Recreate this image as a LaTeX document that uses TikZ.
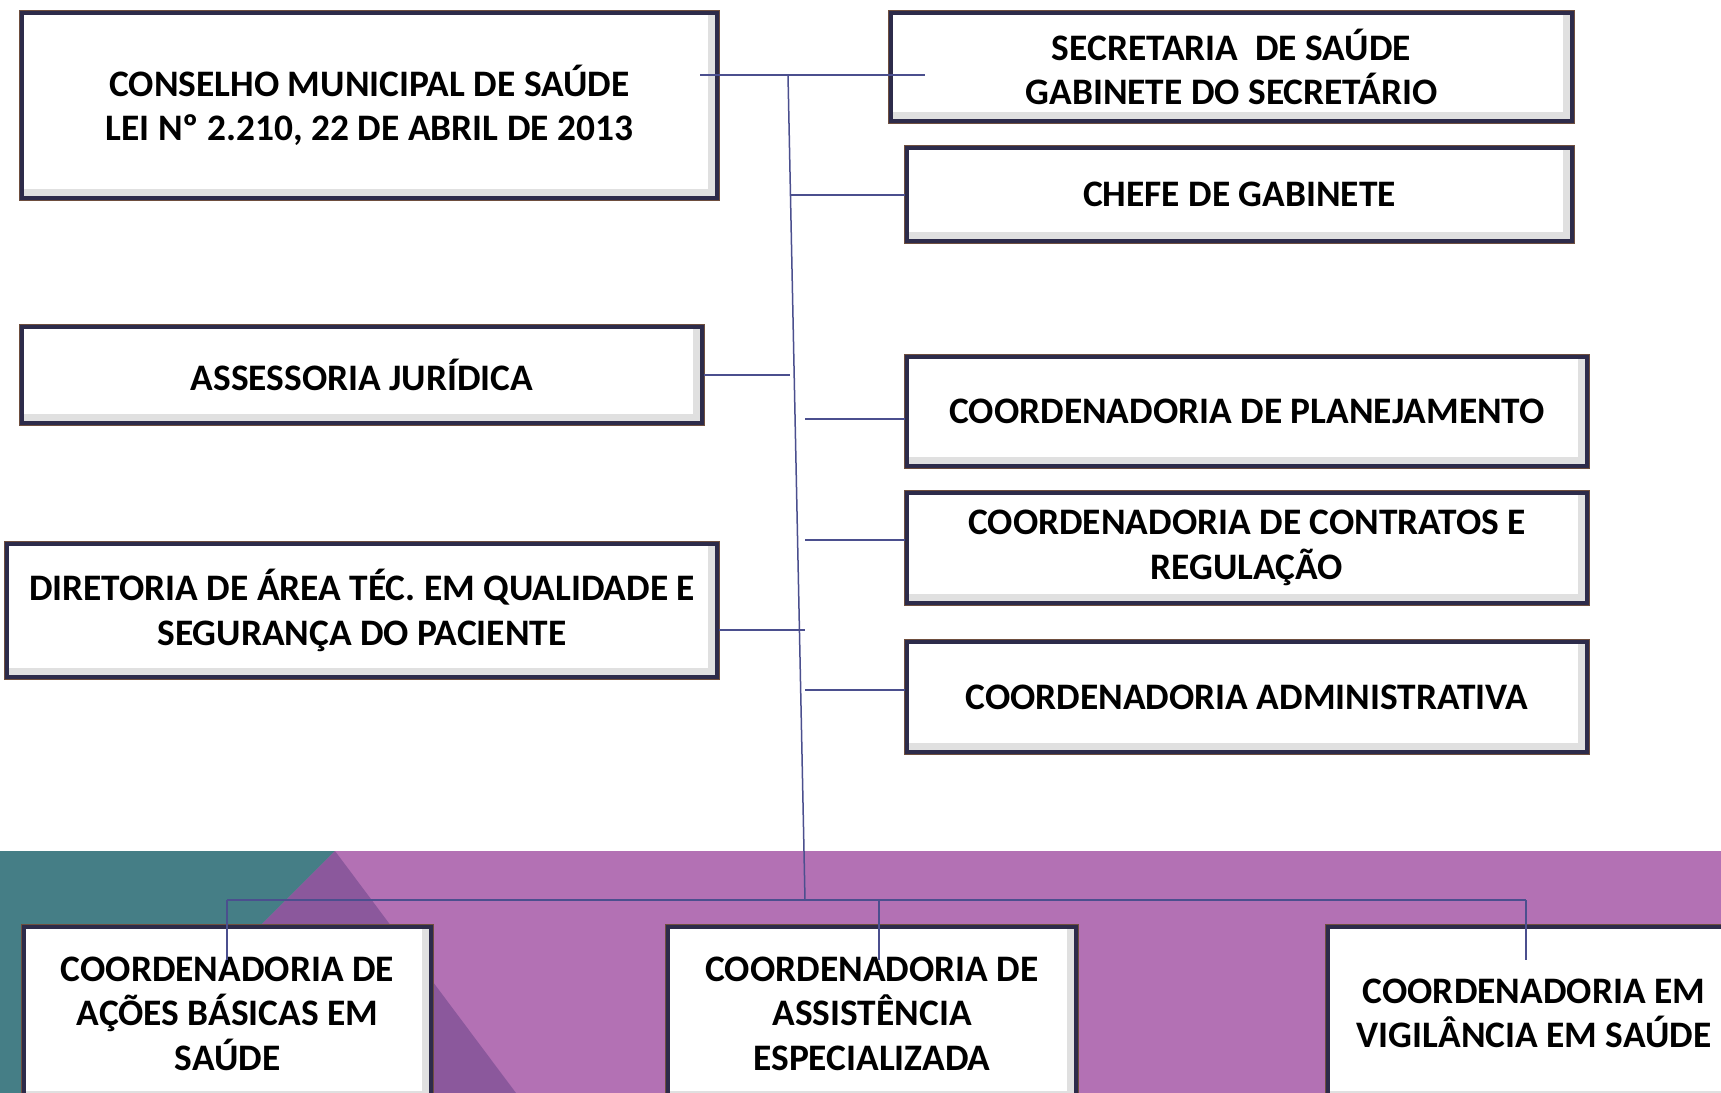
\documentclass[tikz,border=0pt]{standalone}
\usepackage{fontspec}
\setmainfont{Carlito}
\definecolor{linec}{HTML}{4B4F8E}
\definecolor{boxdark}{HTML}{2D2B4A}
\definecolor{boxbrown}{HTML}{6E4E3E}
\definecolor{bandpurple}{HTML}{B371B4}
\definecolor{darkpurple}{HTML}{8B589C}
\definecolor{bandteal}{HTML}{457E86}
\tikzset{
  orgbox/.style={rectangle, fill=white, draw=boxdark, line width=2.4pt,
    preaction={draw=boxbrown, line width=3.2pt},
    path picture={
      \draw[black!28, line width=5pt] (path picture bounding box.south west) -- (path picture bounding box.south east) -- (path picture bounding box.north east);
      \draw[black!12, line width=9pt] (path picture bounding box.south west) -- (path picture bounding box.south east) -- (path picture bounding box.north east);
    },
    inner sep=0pt, align=center, text=black,
    execute at begin node={\vspace*{3pt}},
    font=\fontsize{18.7}{22.3}\selectfont\bfseries},
  conn/.style={draw=linec, line width=0.75pt}
}
\begin{document}
\begin{tikzpicture}[x=0.5pt,y=-0.5pt]
\useasboundingbox (0,0) rectangle (1721,1093);
\clip (0,0) rectangle (1721,1093);
\fill[white] (0,0) rectangle (1721,1093);
% bottom band
\fill[bandpurple] (0,851) rectangle (1721,1093);
\fill[bandteal] (0,851) -- (335,851) -- (93,1093) -- (0,1093) -- cycle;
\fill[darkpurple] (335,851) -- (93,1093) -- (516,1093) -- cycle;

% boxes
\node[orgbox, minimum width=347.5pt, minimum height=92.5pt] (cms) at (369.5,105.5) {CONSELHO MUNICIPAL DE SAÚDE\\LEI Nº 2.210, 22 DE ABRIL DE 2013};
\node[orgbox, minimum width=340.5pt, minimum height=54pt] (sec) at (1231.5,67) {SECRETARIA~ DE SAÚDE\\GABINETE DO SECRETÁRIO};
\node[orgbox, minimum width=332.5pt, minimum height=46.5pt] (chefe) at (1239.5,194.5) {CHEFE DE GABINETE};
\node[orgbox, minimum width=340pt, minimum height=48pt] (assess) at (362,375) {ASSESSORIA JURÍDICA};
\node[orgbox, minimum width=355pt, minimum height=66.5pt] (dir) at (362,610.5) {DIRETORIA DE ÁREA TÉC. EM QUALIDADE E\\SEGURANÇA DO PACIENTE};
\node[orgbox, minimum width=340pt, minimum height=54.5pt] (plan) at (1247,411.5) {COORDENADORIA DE PLANEJAMENTO};
\node[orgbox, minimum width=340pt, minimum height=55pt] (contr) at (1247,548) {COORDENADORIA DE CONTRATOS E\\REGULAÇÃO};
\node[orgbox, minimum width=340pt, minimum height=55pt] (admin) at (1247,697) {COORDENADORIA ADMINISTRATIVA};
\node[orgbox, minimum width=203.5pt, minimum height=86.5pt] (acoes) at (227.5,1013.5) {COORDENADORIA DE\\AÇÕES BÁSICAS EM\\SAÚDE};
\node[orgbox, minimum width=204pt, minimum height=86.5pt] (assist) at (872,1013.5) {COORDENADORIA DE\\ASSISTÊNCIA\\ESPECIALIZADA};
\node[orgbox, minimum width=206pt, minimum height=86.5pt] (vigil) at (1534,1013.5) {COORDENADORIA EM\\VIGILÂNCIA EM SAÚDE};

% junction coordinates
\coordinate (topL) at (700,75);
\coordinate (topR) at (925,75);
\coordinate (trunkTop) at (788,75);
\coordinate (trunkBot) at (805,900);
\coordinate (jChefe) at (790,195);
\coordinate (jAssess) at (790,375);
\coordinate (jPlan) at (805,419);
\coordinate (jContr) at (805,540);
\coordinate (jDir) at (805,630);
\coordinate (jAdmin) at (805,690);
\coordinate (barL) at (227,900);
\coordinate (barM) at (879,900);
\coordinate (barR) at (1526,900);
\coordinate (endL) at (227,960);
\coordinate (endM) at (879,960);
\coordinate (endR) at (1526,960);

% connectors
\draw[conn] (topL) -- (topR);
\draw[conn] (trunkTop) -- (trunkBot);
\draw[conn] (jChefe) -- (jChefe -| chefe.west);
\draw[conn] (assess.east |- jAssess) -- (jAssess);
\draw[conn] (jPlan) -- (jPlan -| plan.west);
\draw[conn] (jContr) -- (jContr -| contr.west);
\draw[conn] (dir.east |- jDir) -- (jDir);
\draw[conn] (jAdmin) -- (jAdmin -| admin.west);
\draw[conn] (barL) -- (barR);
\draw[conn] (barL) -- (endL);
\draw[conn] (barM) -- (endM);
\draw[conn] (barR) -- (endR);
\end{tikzpicture}
\end{document}
